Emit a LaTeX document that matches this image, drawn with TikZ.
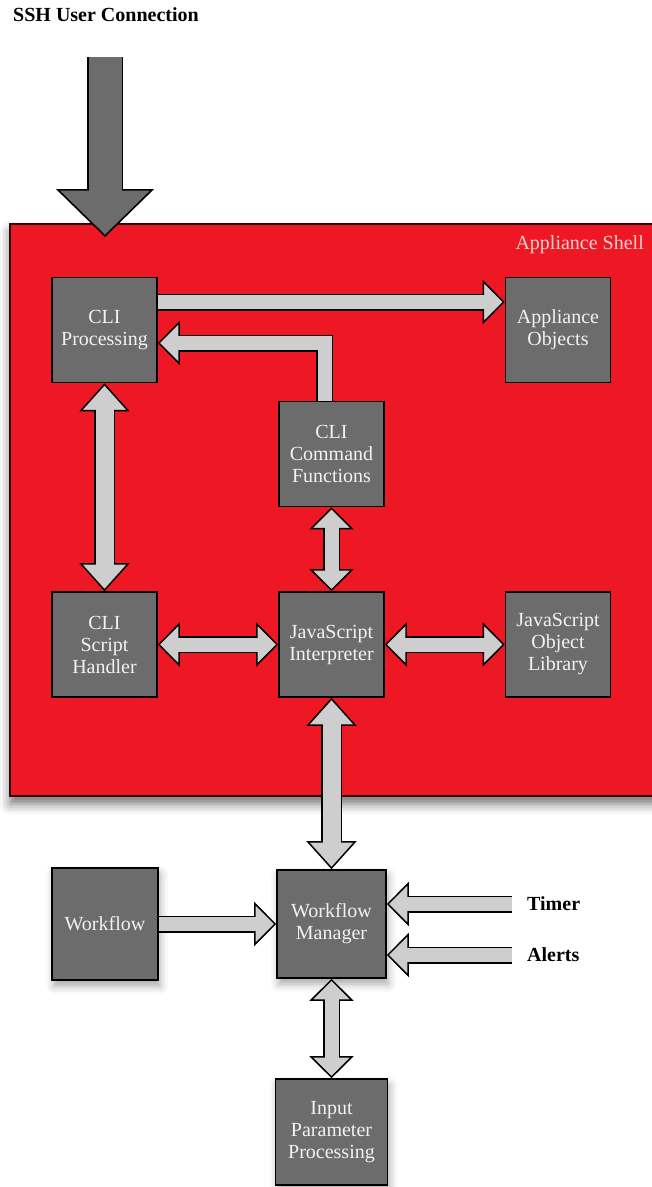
\documentclass[tikz,border=0pt]{standalone}
\usepackage{fontspec}
\setmainfont{Liberation Serif}
\usetikzlibrary{arrows.meta, shadows.blur}
\definecolor{shellred}{RGB}{238,24,36}
\definecolor{boxgray}{RGB}{108,108,108}
\definecolor{arrowgray}{RGB}{206,206,206}
\definecolor{boxtext}{RGB}{242,242,242}
\definecolor{shelltext}{RGB}{250,208,208}
\tikzstyle{box} = [draw=black, line width=1.6pt, fill=boxgray, text=boxtext,
   align=center, minimum width=105pt, minimum height=105pt, inner sep=2pt,
   font=\fontsize{20}{22}\selectfont]
\tikzstyle{fatArrow} = [draw=black, line width=1.5pt,
   -{Triangle[width=44pt,length=22pt,fill=arrowgray]},
   preaction={draw=black, -, double=arrowgray, double distance=14pt, shorten >=20pt},
   postaction={draw=arrowgray, -, line width=14pt, shorten >=18pt}]
\tikzstyle{fatBoth} = [draw=black, line width=1.5pt,
   {Triangle[width=44pt,length=22pt,fill=arrowgray]}-{Triangle[width=44pt,length=22pt,fill=arrowgray]},
   preaction={draw=black, -, double=arrowgray, double distance=14pt, shorten >=20pt, shorten <=20pt},
   postaction={draw=arrowgray, -, line width=14pt, shorten >=18pt, shorten <=18pt}]
\tikzstyle{wideBoth} = [draw=black, line width=1.5pt,
   {Triangle[width=50pt,length=28pt,fill=arrowgray]}-{Triangle[width=50pt,length=28pt,fill=arrowgray]},
   preaction={draw=black, -, double=arrowgray, double distance=18pt, shorten >=26pt, shorten <=26pt},
   postaction={draw=arrowgray, -, line width=18pt, shorten >=24pt, shorten <=24pt}]
\tikzstyle{userArrow} = [draw=black, line width=1.6pt,
   -{Triangle[width=98pt,length=48pt,fill=boxgray]},
   preaction={draw=black, -, double=boxgray, double distance=33pt, shorten >=46pt},
   postaction={draw=boxgray, -, line width=33pt, shorten >=44pt}]
\begin{document}
\begin{tikzpicture}[
  x=1pt, y=-1pt,
  lbl/.style={inner sep=0pt, font=\fontsize{20}{22}\selectfont\bfseries},
  soft/.style={blur shadow={shadow xshift=2pt, shadow yshift=-6pt,
     shadow blur radius=8pt, shadow opacity=35}},
  ]
  \useasboundingbox (0,0) rectangle (652,1187);

  % appliance shell
  \node[draw=black!80!shellred, line width=1.4pt, fill=shellred,
    minimum width=650pt, minimum height=572pt,
    blur shadow={shadow xshift=0pt, shadow yshift=-8pt,
      shadow blur radius=10pt, shadow opacity=55}] (shell) at (335,510) {};
  \node[anchor=east, inner sep=0pt, text=shelltext,
    font=\fontsize{20}{22}\selectfont] (shellname) at (644,245) {Appliance Shell};

  \node[lbl, anchor=west] (ssh) at (13,15) {SSH User Connection};
  \coordinate (userTop) at (105,57);
  \coordinate (userTip) at (105,237);

  \node[box] (cliproc) at (104.5,330) {CLI\\Processing};
  \node[box] (appobj) at (558,330) {Appliance\\Objects};
  \node[box] (clicmd) at (331.5,454) {CLI\\Command\\Functions};
  \node[box] (clish) at (104.5,644.5) {CLI\\Script\\Handler};
  \node[box] (jsint) at (331.5,644.5) {JavaScript\\Interpreter};
  \node[box] (jslib) at (558,644.5) {JavaScript\\Object\\Library};

  \node[box, soft, minimum width=106pt, minimum height=112pt] (workflow) at (105,924) {Workflow};
  \node[box, soft, minimum width=109pt, minimum height=108pt] (wfmgr) at (331.5,924) {Workflow\\Manager};
  \node[box, soft, minimum width=112pt, minimum height=106pt] (inparam) at (331.5,1132) {Input\\Parameter\\Processing};
  \node[lbl, anchor=west] (timer) at (527,904) {Timer};
  \node[lbl, anchor=west] (alerts) at (527,955) {Alerts};

  \draw[userArrow] (userTop) -- (userTip);
  \draw[fatArrow] ([yshift=28pt]cliproc.east) -- ([yshift=28pt]appobj.west);
  \draw[fatArrow] ([xshift=-7pt]clicmd.north) |- ([yshift=-13pt]cliproc.east);
  \draw[wideBoth] (cliproc) -- (clish);
  \draw[fatBoth] (clicmd) -- (jsint);
  \draw[fatBoth] (clish) -- (jsint);
  \draw[fatBoth] (jsint) -- (jslib);
  \draw[wideBoth] (jsint) -- (wfmgr);
  \draw[fatArrow] (workflow) -- (wfmgr);
  \draw[fatArrow] ([xshift=-15pt]timer.west) -- (timer.west -| wfmgr.east);
  \draw[fatArrow] ([xshift=-15pt]alerts.west) -- (alerts.west -| wfmgr.east);
  \draw[fatBoth] (wfmgr) -- (inparam);
\end{tikzpicture}
\end{document}
